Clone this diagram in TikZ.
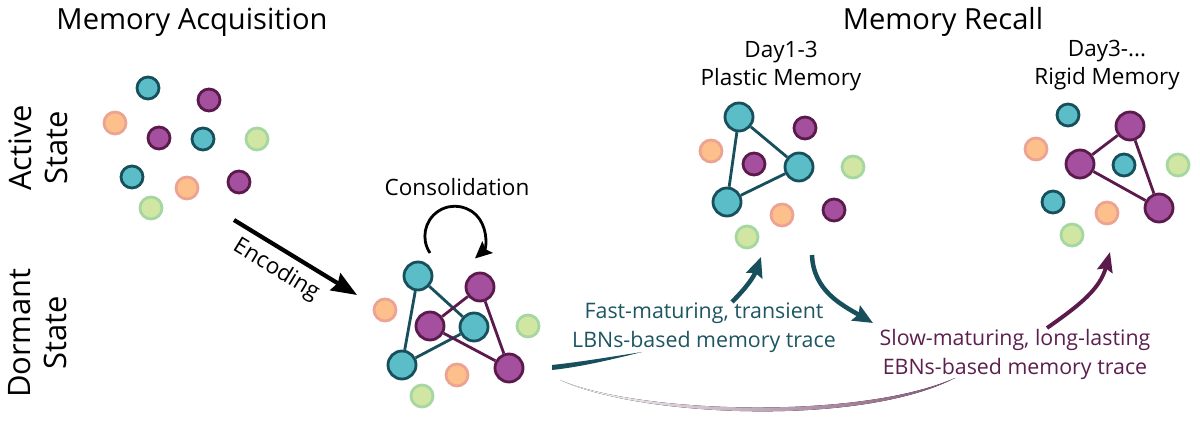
\documentclass[tikz,border=0pt]{standalone}
\usepackage{fontspec}
\setmainfont{Open Sans}
\usetikzlibrary{arrows.meta,positioning}

\definecolor{tealfill}{HTML}{5BBDC8}
\definecolor{tealline}{HTML}{17505C}
\definecolor{purplefill}{HTML}{A4509E}
\definecolor{purpleline}{HTML}{5B1A4C}
\definecolor{orangefill}{HTML}{FDC08A}
\definecolor{orangeline}{HTML}{EDA394}
\definecolor{greenfill}{HTML}{D2E6A4}
\definecolor{greenline}{HTML}{A5D8A0}
\definecolor{tealtext}{HTML}{1D5562}
\definecolor{purpletext}{HTML}{5C1F4E}

\tikzset{
	cell/.style={circle,draw,line width=2pt,minimum size=0.55cm,inner sep=0pt},
	tcell/.style={cell,fill=tealfill,draw=tealline},
	pcell/.style={cell,fill=purplefill,draw=purpleline},
	ocell/.style={cell,fill=orangefill,draw=orangeline},
	gcell/.style={cell,fill=greenfill,draw=greenline},
	tbig/.style={tcell,minimum size=0.7cm},
	pbig/.style={pcell,minimum size=0.7cm},
	tlink/.style={draw=tealline,line width=2pt},
	plink/.style={draw=purpleline,line width=2pt},
	heading/.style={font=\fontsize{20.7}{24}\selectfont},
	side/.style={font=\fontsize{22}{25.5}\selectfont,align=center,rotate=90},
	caption/.style={font=\fontsize{16}{20}\selectfont,align=center},
	trace/.style={font=\fontsize{15.2}{20.6}\selectfont,align=center},
}

\begin{document}
\begin{tikzpicture}[x=0.025cm,y=0.025cm]
	\useasboundingbox (0,0) rectangle (1200,426);

	% headings
	\node[heading] (acq) at (192,404) {Memory Acquisition};
	\node[heading] (rec) at (943,404) {Memory Recall};
	\node[side] (active) at (38,278) {Active\\State};
	\node[side] (dormant) at (38,93) {Dormant\\State};
	\node[caption] (plastic) at (781,360) {Day1-3\\Plastic Memory};
	\node[caption] (rigid) at (1107,361) {Day3-...\\Rigid Memory};

	% active state
	\foreach \x/\y/\k [count=\n] in
		{148/338/tcell,209/326/pcell,115/303/ocell,159/288/pcell,203/287/tcell,
		 257/287/gcell,132/249/tcell,187/238/ocell,239/244/pcell,151/218/gcell}
		\node[\k] (A\n) at (\x,\y) {};

	% consolidated engram
	\foreach \x/\y/\k [count=\n] in
		{418/150/tbig,480/139/pbig,430/100/pbig,474/99/tbig,402/61/tbig,
		 509/58/pbig,385/116/ocell,528/100/gcell,457/51/ocell,422/30/gcell}
		\node[\k] (C\n) at (\x,\y) {};
	\path[tlink] (C1) -- (C5) (C1) -- (C4) (C5) -- (C4);
	\path[plink] (C2) -- (C3) (C2) -- (C6) (C3) -- (C6);

	% plastic memory
	\foreach \x/\y/\k [count=\n] in
		{739/309/tbig,805/298/pcell,711/275/ocell,754/262/pcell,799/259/tbig,
		 853/259/gcell,727/224/tbig,782/211/ocell,834/216/pcell,747/189/gcell}
		\node[\k] (P\n) at (\x,\y) {};
	\path[tlink] (P1) -- (P5) (P1) -- (P7) (P5) -- (P7);

	% rigid memory
	\foreach \x/\y/\k [count=\n] in
		{1068/311/tcell,1130/300/pbig,1036/277/ocell,1080/262/pbig,1124/261/tcell,
		 1178/261/gcell,1053/224/tcell,1159/218/pbig,1107/213/ocell,1072/191/gcell}
		\node[\k] (R\n) at (\x,\y) {};
	\path[plink] (R2) -- (R4) (R2) -- (R8) (R4) -- (R8);

	% encoding and consolidation
	\coordinate (enc1) at (234,206);
	\coordinate (enc2) at (357,131);
	\draw[-{Stealth[length=18pt,width=14pt,inset=2pt]},line width=3pt] (enc1) --
		node[sloped,below=2pt,pos=0.43,font=\fontsize{16}{19}\selectfont] (enc) {Encoding} (enc2);
	\node[caption] (cons) at (457,239) {Consolidation};
	\draw[-{Stealth[length=12pt,width=11pt,inset=2pt]},line width=2pt]
		(430,173) arc[start angle=214,end angle=-48,radius=30];

	% recall traces
	\fill[left color=white,right color=purpleline!75!white]
		(560,46) .. controls (640,12) and (860,6) .. (955,48)
		.. controls (860,-1) and (640,9) .. (560,46) -- cycle;
	\fill[tealline] (552,61) .. controls (580,64) and (610,69) .. (642,74)
		.. controls (610,66) and (580,59) .. (552,56) -- cycle;
	\node[trace,text=tealtext] (fast) at (704,98) {Fast-maturing, transient\\LBNs-based memory trace};
	\node[trace,text=purpletext] (slow) at (1015,72) {Slow-maturing, long-lasting\\EBNs-based memory trace};

	\coordinate (fastfrom) at (732,124);
	\coordinate (fastto) at (761,169);
	\coordinate (slowfrom) at (812,171);
	\coordinate (slowto) at (873,103);
	\coordinate (rigidfrom) at (1047,98);
	\coordinate (rigidto) at (1110,174);
	\draw[-{Stealth[length=14pt,width=12pt,inset=2pt]},line width=3.2pt,tealline]
		(fastfrom) to[out=45,in=-110] (fastto);
	\draw[-{Stealth[length=14pt,width=12pt,inset=2pt]},line width=3.2pt,tealline]
		(slowfrom) to[out=-88,in=150] (slowto);
	\draw[-{Stealth[length=14pt,width=11pt,inset=2pt]},line width=2.8pt,purpleline]
		(rigidfrom) to[out=35,in=-105] (rigidto);
\end{tikzpicture}
\end{document}
